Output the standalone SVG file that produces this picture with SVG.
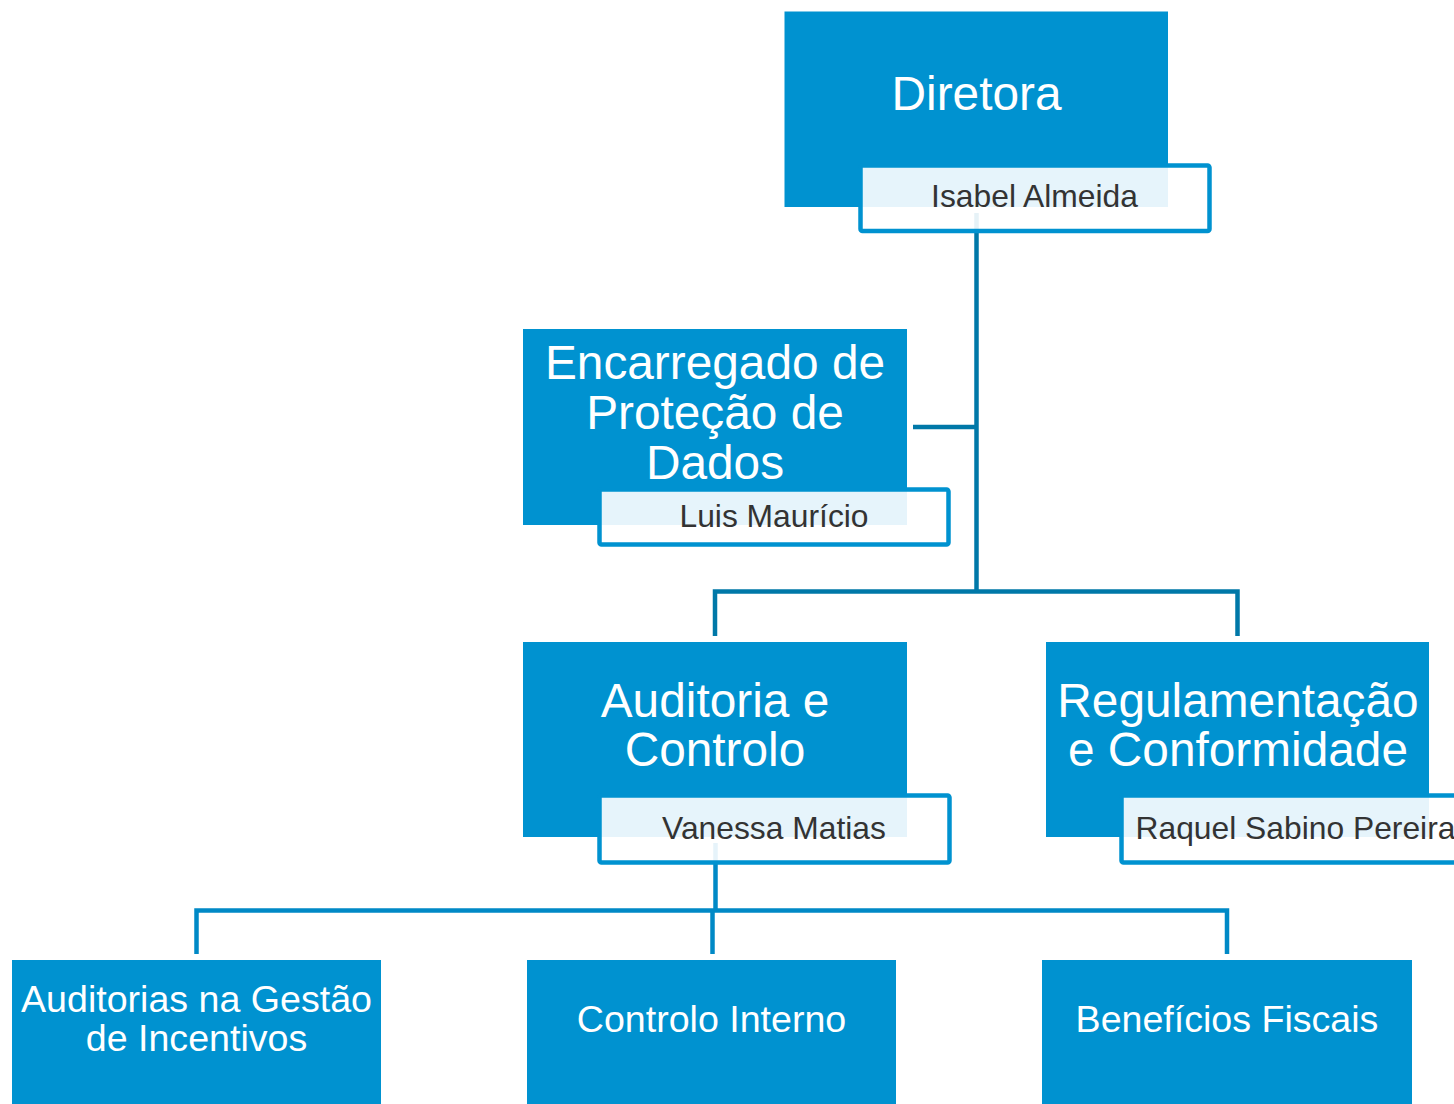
<svg xmlns="http://www.w3.org/2000/svg" width="1454" height="1104" viewBox="0 0 1454 1104">
<style>
.box{fill:#0092D0}
.nm{fill:#FFFFFF;fill-opacity:0.9;stroke:#0092D0;stroke-width:4.5}
.t{font-family:"Liberation Sans",Arial,sans-serif;fill:#FFFFFF;text-anchor:middle}
.big{font-size:47.8px}
.sm{font-size:37.6px}
.name{font-family:"Liberation Sans",Arial,sans-serif;fill:#333333;font-size:31.8px;text-anchor:middle}
.c1{fill:none;stroke:#0078A8;stroke-width:4.5}
.c2{fill:none;stroke:#0089C6;stroke-width:4.5}
</style>
<rect width="1454" height="1104" fill="#FFFFFF"/>
<g id="n-diretora-box"><rect class="box" x="784.5" y="11.5" width="383.5" height="195.5"/>
<text class="t big" x="976.5" y="110">Diretora</text></g>
<g id="n-encarregado-box"><rect class="box" x="523" y="329" width="384" height="196"/>
<text class="t big" x="715" y="379">Encarregado de</text>
<text class="t big" x="715" y="429">Proteção de</text>
<text class="t big" x="715" y="479">Dados</text></g>
<g id="n-auditoria-box"><rect class="box" x="523" y="642" width="384" height="195"/>
<text class="t big" x="715" y="717">Auditoria e</text>
<text class="t big" x="715" y="766">Controlo</text></g>
<g id="n-regulamentacao-box"><rect class="box" x="1046" y="642" width="383" height="195"/>
<text class="t big" x="1238" y="717">Regulamentação</text>
<text class="t big" x="1238" y="766">e Conformidade</text></g>
<g id="n-auditorias-gestao"><rect class="box" x="12" y="960" width="369" height="150"/>
<text class="t sm" x="196.5" y="1012">Auditorias na Gestão</text>
<text class="t sm" x="196.5" y="1051">de Incentivos</text></g>
<g id="n-controlo-interno"><rect class="box" x="527" y="960" width="369" height="150"/>
<text class="t sm" x="711.5" y="1032">Controlo Interno</text></g>
<g id="n-beneficios-fiscais"><rect class="box" x="1042" y="960" width="370" height="150"/>
<text class="t sm" x="1227" y="1032">Benefícios Fiscais</text></g>
<g id="connectors">
<path class="c1" d="M976.5 213 V591.5"/>
<path class="c1" d="M913 427 H976.5"/>
<path class="c1" d="M715 636 V591.5 H1237.5 V636"/>
<path class="c2" d="M715.5 843 V910.5"/>
<path class="c2" d="M196.5 954 V910.5 H1227 V954"/>
<path class="c2" d="M712.5 910.5 V954"/>
</g>
<g id="n-diretora-name"><rect class="nm" x="860.5" y="165.5" width="349" height="65.5" rx="2"/>
<text class="name" x="1034.5" y="207">Isabel Almeida</text></g>
<g id="n-encarregado-name"><rect class="nm" x="599.5" y="489.5" width="349" height="55" rx="2"/>
<text class="name" x="774" y="527">Luis Maurício</text></g>
<g id="n-auditoria-name"><rect class="nm" x="599.5" y="795.5" width="350" height="67" rx="2"/>
<text class="name" x="774" y="839">Vanessa Matias</text></g>
<g id="n-regulamentacao-name"><rect class="nm" x="1121.5" y="795.5" width="350" height="67" rx="2"/>
<text class="name" x="1295.5" y="839">Raquel Sabino Pereira</text></g>
</svg>
